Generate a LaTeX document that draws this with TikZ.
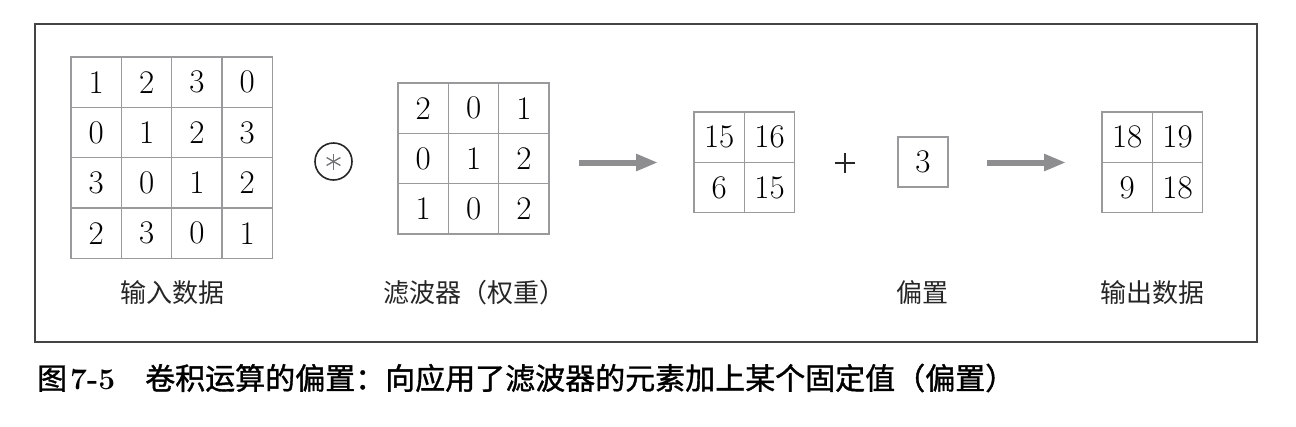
\documentclass[tikz,border=0pt]{standalone}
\usepackage{fontspec}
\newfontfamily\cjk{Noto Sans CJK SC}
\newfontfamily\cjkb[FakeBold=1.2]{Noto Sans CJK SC}
\usetikzlibrary{arrows.meta,calc}
\definecolor{cellgray}{HTML}{9A9A9C}
\definecolor{framegray}{HTML}{444444}
\definecolor{arrowgray}{HTML}{8E8E90}
\tikzset{
  cell/.style={draw=cellgray, line width=1.4pt, minimum width=50.3pt, minimum height=50.3pt, inner sep=0pt, font=\fontsize{33}{35}\selectfont},
  lbl/.style={font=\cjk\fontsize{26}{28}\selectfont, inner sep=0pt, text=black!85},
  bigarrow/.style={draw=arrowgray, line width=6pt, -{Triangle[length=22pt,width=16pt]}},
}
\begin{document}
\begin{tikzpicture}[x=1pt,y=-1pt]
\useasboundingbox (0,0) rectangle (1296,426);
\draw[framegray, line width=2pt] (35,24) rectangle (1257,342);
% input 4x4
\foreach \r/\row in {0/{1,2,3,0},1/{0,1,2,3},2/{3,0,1,2},3/{2,3,0,1}}{
  \foreach \v [count=\c from 0] in \row {
    \node[cell] (in-\r-\c) at ({96.3+50.3*\c},{82.3+50.3*\r}) {\v};
  }
}
% filter 3x3
\foreach \r/\row in {0/{2,0,1},1/{0,1,2},2/{1,0,2}}{
  \foreach \v [count=\c from 0] in \row {
    \node[cell] (f-\r-\c) at ({423.3+50.3*\c},{108.3+50.3*\r}) {\v};
  }
}
% conv output 2x2
\foreach \r/\row in {0/{15,16},1/{6,15}}{
  \foreach \v [count=\c from 0] in \row {
    \node[cell] (o-\r-\c) at ({719.2+50.3*\c},{137.2+50.3*\r}) {\v};
  }
}
% bias
\node[cell] (bias) at (923,162) {3};
% result 2x2
\foreach \r/\row in {0/{18,19},1/{9,18}}{
  \foreach \v [count=\c from 0] in \row {
    \node[cell] (r-\r-\c) at ({1127.2+50.3*\c},{137.2+50.3*\r}) {\v};
  }
}
% convolution operator
\node[draw=black!85, line width=1.6pt, circle, minimum size=37pt, inner sep=0pt] (op) at (333.5,161.5) {};
\foreach \a in {90,30,150}{
  \draw[arrowgray!80!black, line width=1.3pt] ($(op.center)+(\a:8)$) -- ($(op.center)+(\a+180:8)$);
}
% plus
\coordinate (plus) at (845,163);
\draw[black!85, line width=2.6pt] ($(plus)+(-10,0)$) -- ($(plus)+(10,0)$);
\draw[black!85, line width=2.6pt] ($(plus)+(0,-10)$) -- ($(plus)+(0,10)$);
% arrows
\coordinate (a1s) at (579,162.5);
\coordinate (a1e) at (658,162.5);
\coordinate (a2s) at (987,162.5);
\coordinate (a2e) at (1066,162.5);
\draw[bigarrow] (a1s) -- (a1e);
\draw[bigarrow] (a2s) -- (a2e);
% labels
\node[lbl] (l1) at (172,293) {输入数据};
\node[lbl] (l2) at (474,293) {滤波器（权重）};
\node[lbl] (l3) at (922,293) {偏置};
\node[lbl] (l4) at (1152,293) {输出数据};
% caption
\node[anchor=west, inner sep=0pt, font=\fontsize{30}{32}\selectfont] (cap) at (37,378)
  {{\cjkb 图}\hspace{3pt}\textbf{7-5}\hspace{30pt}{\cjkb 卷积运算的偏置：向应用了滤波器的元素加上某个固定值（偏置）}};
\end{tikzpicture}
\end{document}
